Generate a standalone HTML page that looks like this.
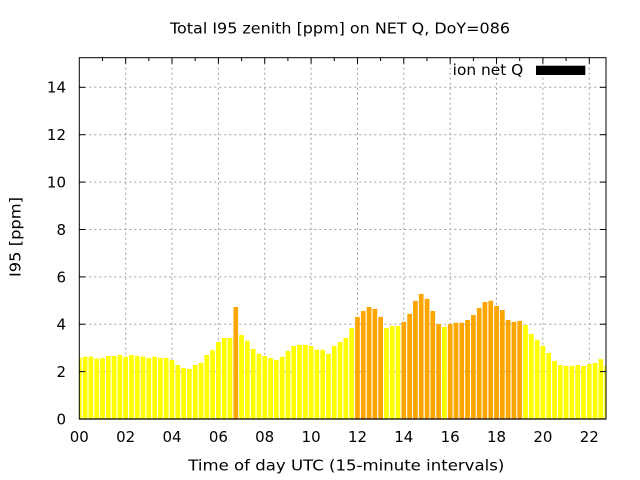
<!DOCTYPE html>
<html>
<head>
<meta charset="utf-8">
<style>
  html, body { margin: 0; padding: 0; background: #fff; }
  svg { display: block; }
  text { font-family: "DejaVu Sans", "Liberation Sans", sans-serif; font-size: 15px; fill: #000; }
  .y { fill: #ffff00; }
  .o { fill: #ffa500; }
  .grid line { stroke: #a0a0a0; stroke-width: 1; stroke-dasharray: 2,3; }
</style>
</head>
<body>
<svg width="640" height="480" viewBox="0 0 640 480" xmlns="http://www.w3.org/2000/svg">
  <rect width="640" height="480" fill="#fff"/>
  <defs>
    <clipPath id="pa"><rect x="79.3" y="57.7" width="526.7" height="361.3"/></clipPath>
  </defs>

  <!-- grid -->
  <g class="grid">
    <line x1="79.3" y1="371.6" x2="606" y2="371.6"/>
    <line x1="79.3" y1="324.2" x2="606" y2="324.2"/>
    <line x1="79.3" y1="276.9" x2="606" y2="276.9"/>
    <line x1="79.3" y1="229.5" x2="606" y2="229.5"/>
    <line x1="79.3" y1="182.1" x2="606" y2="182.1"/>
    <line x1="79.3" y1="134.7" x2="606" y2="134.7"/>
    <line x1="79.3" y1="87.3" x2="606" y2="87.3"/>
    <line x1="125.7" y1="57.7" x2="125.7" y2="419"/>
    <line x1="172.0" y1="57.7" x2="172.0" y2="419"/>
    <line x1="218.4" y1="57.7" x2="218.4" y2="419"/>
    <line x1="264.7" y1="57.7" x2="264.7" y2="419"/>
    <line x1="311.1" y1="57.7" x2="311.1" y2="419"/>
    <line x1="357.5" y1="57.7" x2="357.5" y2="419"/>
    <line x1="403.8" y1="57.7" x2="403.8" y2="419"/>
    <line x1="450.2" y1="57.7" x2="450.2" y2="419"/>
    <line x1="496.5" y1="57.7" x2="496.5" y2="419"/>
    <line x1="542.9" y1="57.7" x2="542.9" y2="419"/>
    <line x1="589.3" y1="57.7" x2="589.3" y2="419"/>
  </g>

  <!-- bars -->
  <g clip-path="url(#pa)">
    <rect class="y" x="76.95" y="357.9" width="4.7" height="61.1"/>
    <rect class="y" x="82.75" y="356.7" width="4.7" height="62.3"/>
    <rect class="y" x="88.54" y="356.7" width="4.7" height="62.3"/>
    <rect class="y" x="94.34" y="358.6" width="4.7" height="60.4"/>
    <rect class="y" x="100.13" y="357.9" width="4.7" height="61.1"/>
    <rect class="y" x="105.93" y="356.0" width="4.7" height="63.0"/>
    <rect class="y" x="111.72" y="356.0" width="4.7" height="63.0"/>
    <rect class="y" x="117.52" y="355.0" width="4.7" height="64.0"/>
    <rect class="y" x="123.31" y="356.7" width="4.7" height="62.3"/>
    <rect class="y" x="129.11" y="355.0" width="4.7" height="64.0"/>
    <rect class="y" x="134.90" y="356.0" width="4.7" height="63.0"/>
    <rect class="y" x="140.70" y="356.7" width="4.7" height="62.3"/>
    <rect class="y" x="146.49" y="357.9" width="4.7" height="61.1"/>
    <rect class="y" x="152.29" y="356.7" width="4.7" height="62.3"/>
    <rect class="y" x="158.08" y="357.9" width="4.7" height="61.1"/>
    <rect class="y" x="163.88" y="357.9" width="4.7" height="61.1"/>
    <rect class="y" x="169.67" y="360.0" width="4.7" height="59.0"/>
    <rect class="y" x="175.47" y="365.0" width="4.7" height="54.0"/>
    <rect class="y" x="181.26" y="368.1" width="4.7" height="50.9"/>
    <rect class="y" x="187.06" y="369.0" width="4.7" height="50.0"/>
    <rect class="y" x="192.85" y="365.0" width="4.7" height="54.0"/>
    <rect class="y" x="198.65" y="362.9" width="4.7" height="56.1"/>
    <rect class="y" x="204.44" y="355.0" width="4.7" height="64.0"/>
    <rect class="y" x="210.24" y="350.1" width="4.7" height="68.9"/>
    <rect class="y" x="216.03" y="342.0" width="4.7" height="77.0"/>
    <rect class="y" x="221.83" y="338.0" width="4.7" height="81.0"/>
    <rect class="y" x="227.62" y="338.0" width="4.7" height="81.0"/>
    <rect class="o" x="233.42" y="307.0" width="4.7" height="112.0"/>
    <rect class="y" x="239.21" y="334.9" width="4.7" height="84.1"/>
    <rect class="y" x="245.01" y="340.8" width="4.7" height="78.2"/>
    <rect class="y" x="250.80" y="348.9" width="4.7" height="70.1"/>
    <rect class="y" x="256.60" y="353.9" width="4.7" height="65.1"/>
    <rect class="y" x="262.39" y="356.0" width="4.7" height="63.0"/>
    <rect class="y" x="268.19" y="357.9" width="4.7" height="61.1"/>
    <rect class="y" x="273.98" y="360.0" width="4.7" height="59.0"/>
    <rect class="y" x="279.78" y="356.9" width="4.7" height="62.1"/>
    <rect class="y" x="285.57" y="351.0" width="4.7" height="68.0"/>
    <rect class="y" x="291.37" y="346.0" width="4.7" height="73.0"/>
    <rect class="y" x="297.16" y="344.9" width="4.7" height="74.1"/>
    <rect class="y" x="302.96" y="344.9" width="4.7" height="74.1"/>
    <rect class="y" x="308.75" y="346.0" width="4.7" height="73.0"/>
    <rect class="y" x="314.55" y="349.8" width="4.7" height="69.2"/>
    <rect class="y" x="320.34" y="349.8" width="4.7" height="69.2"/>
    <rect class="y" x="326.14" y="353.9" width="4.7" height="65.1"/>
    <rect class="y" x="331.93" y="346.0" width="4.7" height="73.0"/>
    <rect class="y" x="337.73" y="342.0" width="4.7" height="77.0"/>
    <rect class="y" x="343.52" y="338.0" width="4.7" height="81.0"/>
    <rect class="y" x="349.32" y="328.0" width="4.7" height="91.0"/>
    <rect class="o" x="355.11" y="316.9" width="4.7" height="102.1"/>
    <rect class="o" x="360.91" y="311.0" width="4.7" height="108.0"/>
    <rect class="o" x="366.70" y="307.0" width="4.7" height="112.0"/>
    <rect class="o" x="372.50" y="308.8" width="4.7" height="110.2"/>
    <rect class="o" x="378.29" y="316.9" width="4.7" height="102.1"/>
    <rect class="y" x="384.09" y="328.0" width="4.7" height="91.0"/>
    <rect class="y" x="389.88" y="325.9" width="4.7" height="93.1"/>
    <rect class="y" x="395.68" y="325.9" width="4.7" height="93.1"/>
    <rect class="o" x="401.47" y="321.9" width="4.7" height="97.1"/>
    <rect class="o" x="407.27" y="313.8" width="4.7" height="105.2"/>
    <rect class="o" x="413.06" y="300.8" width="4.7" height="118.2"/>
    <rect class="o" x="418.86" y="293.9" width="4.7" height="125.1"/>
    <rect class="o" x="424.65" y="298.9" width="4.7" height="120.1"/>
    <rect class="o" x="430.45" y="311.0" width="4.7" height="108.0"/>
    <rect class="o" x="436.24" y="324.0" width="4.7" height="95.0"/>
    <rect class="y" x="442.04" y="326.9" width="4.7" height="92.1"/>
    <rect class="o" x="447.83" y="324.0" width="4.7" height="95.0"/>
    <rect class="o" x="453.63" y="322.8" width="4.7" height="96.2"/>
    <rect class="o" x="459.42" y="322.8" width="4.7" height="96.2"/>
    <rect class="o" x="465.22" y="320.0" width="4.7" height="99.0"/>
    <rect class="o" x="471.01" y="315.0" width="4.7" height="104.0"/>
    <rect class="o" x="476.81" y="307.9" width="4.7" height="111.1"/>
    <rect class="o" x="482.60" y="302.0" width="4.7" height="117.0"/>
    <rect class="o" x="488.40" y="300.8" width="4.7" height="118.2"/>
    <rect class="o" x="494.19" y="306.0" width="4.7" height="113.0"/>
    <rect class="o" x="499.99" y="310.0" width="4.7" height="109.0"/>
    <rect class="o" x="505.78" y="320.0" width="4.7" height="99.0"/>
    <rect class="o" x="511.58" y="321.9" width="4.7" height="97.1"/>
    <rect class="o" x="517.37" y="320.9" width="4.7" height="98.1"/>
    <rect class="y" x="523.17" y="325.0" width="4.7" height="94.0"/>
    <rect class="y" x="528.96" y="334.0" width="4.7" height="85.0"/>
    <rect class="y" x="534.76" y="339.9" width="4.7" height="79.1"/>
    <rect class="y" x="540.55" y="346.0" width="4.7" height="73.0"/>
    <rect class="y" x="546.35" y="352.9" width="4.7" height="66.1"/>
    <rect class="y" x="552.14" y="361.0" width="4.7" height="58.0"/>
    <rect class="y" x="557.94" y="365.0" width="4.7" height="54.0"/>
    <rect class="y" x="563.73" y="365.9" width="4.7" height="53.1"/>
    <rect class="y" x="569.53" y="365.9" width="4.7" height="53.1"/>
    <rect class="y" x="575.32" y="365.0" width="4.7" height="54.0"/>
    <rect class="y" x="581.12" y="365.9" width="4.7" height="53.1"/>
    <rect class="y" x="586.91" y="364.0" width="4.7" height="55.0"/>
    <rect class="y" x="592.71" y="362.9" width="4.7" height="56.1"/>
    <rect class="y" x="598.50" y="359.1" width="4.7" height="59.9"/>
    <rect class="y" x="604.30" y="365.9" width="4.7" height="53.1"/>
  </g>

  <!-- ticks -->
  <g stroke="#000" stroke-width="1">
    <line x1="79.3" y1="419" x2="85.3" y2="419"/><line x1="600" y1="419" x2="606" y2="419"/>
    <line x1="79.3" y1="371.6" x2="85.3" y2="371.6"/><line x1="600" y1="371.6" x2="606" y2="371.6"/>
    <line x1="79.3" y1="324.2" x2="85.3" y2="324.2"/><line x1="600" y1="324.2" x2="606" y2="324.2"/>
    <line x1="79.3" y1="276.9" x2="85.3" y2="276.9"/><line x1="600" y1="276.9" x2="606" y2="276.9"/>
    <line x1="79.3" y1="229.5" x2="85.3" y2="229.5"/><line x1="600" y1="229.5" x2="606" y2="229.5"/>
    <line x1="79.3" y1="182.1" x2="85.3" y2="182.1"/><line x1="600" y1="182.1" x2="606" y2="182.1"/>
    <line x1="79.3" y1="134.7" x2="85.3" y2="134.7"/><line x1="600" y1="134.7" x2="606" y2="134.7"/>
    <line x1="79.3" y1="87.3" x2="85.3" y2="87.3"/><line x1="600" y1="87.3" x2="606" y2="87.3"/>
    <line x1="125.7" y1="57.7" x2="125.7" y2="63.7"/>
    <line x1="172.0" y1="57.7" x2="172.0" y2="63.7"/>
    <line x1="218.4" y1="57.7" x2="218.4" y2="63.7"/>
    <line x1="264.7" y1="57.7" x2="264.7" y2="63.7"/>
    <line x1="311.1" y1="57.7" x2="311.1" y2="63.7"/>
    <line x1="357.5" y1="57.7" x2="357.5" y2="63.7"/>
    <line x1="403.8" y1="57.7" x2="403.8" y2="63.7"/>
    <line x1="450.2" y1="57.7" x2="450.2" y2="63.7"/>
    <line x1="496.5" y1="57.7" x2="496.5" y2="63.7"/>
    <line x1="542.9" y1="57.7" x2="542.9" y2="63.7"/>
    <line x1="589.3" y1="57.7" x2="589.3" y2="63.7"/>
    <line x1="102.5" y1="57.7" x2="102.5" y2="61"/>
    <line x1="148.8" y1="57.7" x2="148.8" y2="61"/>
    <line x1="195.2" y1="57.7" x2="195.2" y2="61"/>
    <line x1="241.6" y1="57.7" x2="241.6" y2="61"/>
    <line x1="287.9" y1="57.7" x2="287.9" y2="61"/>
    <line x1="334.3" y1="57.7" x2="334.3" y2="61"/>
    <line x1="380.6" y1="57.7" x2="380.6" y2="61"/>
    <line x1="427.0" y1="57.7" x2="427.0" y2="61"/>
    <line x1="473.4" y1="57.7" x2="473.4" y2="61"/>
    <line x1="519.7" y1="57.7" x2="519.7" y2="61"/>
    <line x1="566.1" y1="57.7" x2="566.1" y2="61"/>
  </g>

  <!-- border -->
  <rect x="79.3" y="57.7" width="526.7" height="361.3" fill="none" stroke="#000" stroke-width="1"/>
  <line x1="79.3" y1="419" x2="606" y2="419" stroke="#000" stroke-width="1.3"/>

  <!-- y tick labels -->
  <g text-anchor="end">
    <text x="66" y="424.4">0</text>
    <text x="66" y="377.0">2</text>
    <text x="66" y="329.6">4</text>
    <text x="66" y="282.3">6</text>
    <text x="66" y="234.9">8</text>
    <text x="66" y="187.5">10</text>
    <text x="66" y="140.1">12</text>
    <text x="66" y="92.7">14</text>
  </g>

  <!-- x tick labels -->
  <g text-anchor="middle">
    <text x="79.3" y="442">00</text>
    <text x="125.7" y="442">02</text>
    <text x="172.0" y="442">04</text>
    <text x="218.4" y="442">06</text>
    <text x="264.7" y="442">08</text>
    <text x="311.1" y="442">10</text>
    <text x="357.5" y="442">12</text>
    <text x="403.8" y="442">14</text>
    <text x="450.2" y="442">16</text>
    <text x="496.5" y="442">18</text>
    <text x="542.9" y="442">20</text>
    <text x="589.3" y="442">22</text>
  </g>

  <!-- title -->
  <text x="340" y="33.5" text-anchor="middle" textLength="340" lengthAdjust="spacingAndGlyphs">Total I95 zenith [ppm] on NET Q, DoY=086</text>

  <!-- x label -->
  <text x="346.3" y="470.5" text-anchor="middle" textLength="316" lengthAdjust="spacingAndGlyphs">Time of day UTC (15-minute intervals)</text>

  <!-- y label -->
  <text transform="translate(20.5,237) rotate(-90)" text-anchor="middle" textLength="80" lengthAdjust="spacingAndGlyphs">I95 [ppm]</text>

  <!-- legend -->
  <text x="523.3" y="75" text-anchor="end" textLength="70.6" lengthAdjust="spacingAndGlyphs">ion net Q</text>
  <rect x="536" y="65.7" width="49.3" height="9.3" fill="#000"/>
</svg>
</body>
</html>
